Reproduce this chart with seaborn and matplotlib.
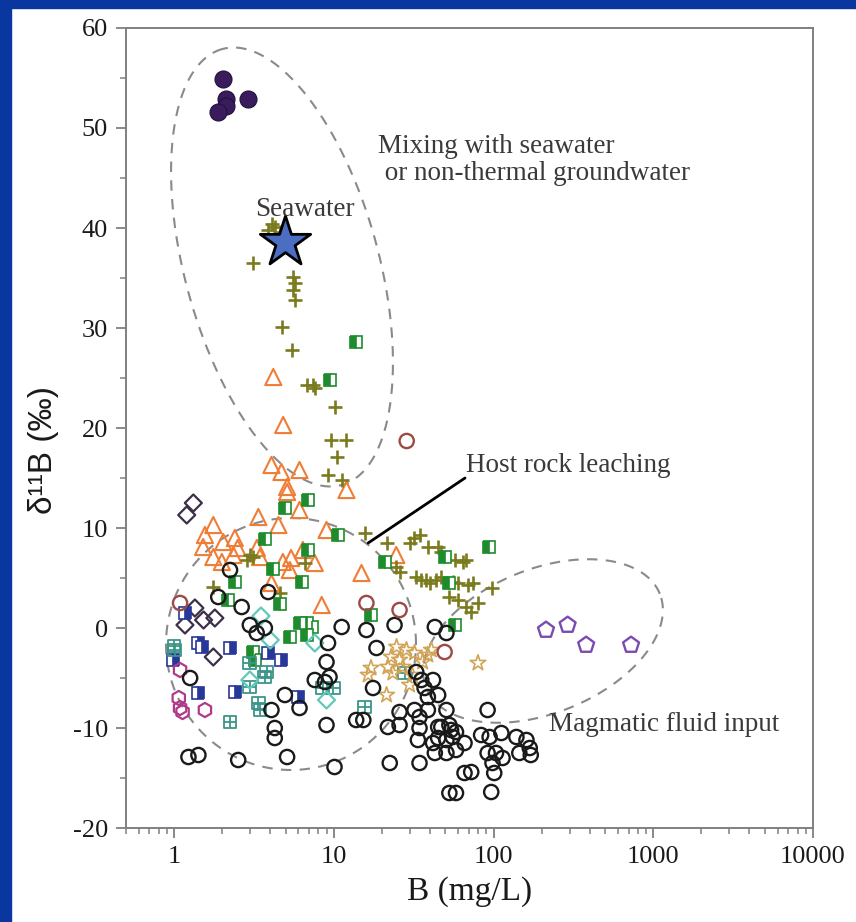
import numpy as np
import pandas as pd
import matplotlib.pyplot as plt
import matplotlib.ticker as mticker
from matplotlib.patches import Rectangle
from matplotlib.path import Path
import seaborn as sns

sns.set_style('ticks')
plt.rcParams['font.family'] = ['Liberation Serif', 'DejaVu Serif']
plt.rcParams['axes.unicode_minus'] = False

# ---- data (B in mg/L, d11B in permil) ----
sphere_B = [2.01, 2.11, 2.11, 1.89, 2.91]
sphere_d = [54.9, 52.9, 52.2, 51.6, 52.9]

seawater_B = [4.94]
seawater_d = [38.6]

plus_B = [3.9, 4.3, 4.1, 4.6, 3.13, 5.57, 5.7, 5.57, 5.7, 4.71, 5.44, 6.75, 7.43, 7.6,
          10.1, 9.64, 12.0, 10.4, 9.2, 11.2, 15.6, 21.4, 24.6, 25.8, 29.8, 32.0, 34.5,
          38.8, 44.9, 47.1, 57.0, 64.3, 67.5, 32.8, 35.3, 38.0, 39.8, 43.7, 47.1, 55.5,
          59.6, 69.0, 74.4, 52.9, 59.6, 67.5, 80.0, 98.5, 72.5, 3.13, 2.98, 1.76, 4.6,
          6.6, 2.85]
plus_d = [39.8, 40.1, 40.4, 39.6, 36.5, 35.1, 34.5, 33.8, 32.8, 30.1, 27.8, 24.3, 24.3, 24.0,
          22.1, 18.8, 18.8, 17.1, 15.3, 14.8, 9.5, 8.5, 6.1, 5.6, 8.5, 9.0, 9.3,
          8.1, 8.1, 7.6, 6.8, 6.6, 6.8, 5.1, 4.8, 4.8, 4.5, 4.8, 5.1, 4.6,
          4.5, 4.3, 4.5, 3.1, 2.8, 2.1, 2.5, 4.0, 1.6, 7.1, 7.3, 4.1, 3.5,
          6.5, 6.8]

tri_B = [4.18, 4.82, 4.07, 4.7, 6.1, 5.1, 5.1, 12.0, 6.1, 3.37, 4.5, 9.0, 3.45, 4.8, 5.4,
         6.4, 7.6, 5.3, 14.9, 24.6, 8.4, 4.07, 1.76, 1.56, 1.52, 2.03, 2.4, 2.5, 1.76,
         1.99, 2.35, 3.3]
tri_d = [25.1, 20.3, 16.3, 15.6, 15.8, 14.1, 13.6, 13.8, 11.8, 11.1, 10.3, 9.8, 7.1, 6.6, 7.0,
         7.8, 6.5, 5.8, 5.5, 7.3, 2.3, 4.5, 10.3, 9.3, 8.1, 8.6, 9.0, 8.0, 7.1,
         6.6, 7.3, 8.0]

gsq_B = [13.8, 9.4, 6.9, 4.94, 10.6, 3.7, 6.9, 4.18, 6.3, 4.6, 20.8, 94.0, 49.4, 52.9, 17.1,
         6.75, 7.25, 57.0, 2.4, 2.18, 6.1, 6.75, 5.3, 3.13, 3.2]
gsq_d = [28.6, 24.8, 12.8, 12.0, 9.3, 8.9, 7.8, 5.9, 4.6, 2.4, 6.6, 8.1, 7.1, 4.5, 1.3,
         0.5, 0.1, 0.3, 4.6, 2.8, 0.5, -0.7, -0.9, -2.4, -3.2]

circ_B = [2.24, 1.89, 3.88, 2.65, 2.98, 3.29, 3.7, 11.2, 16.0, 9.2, 18.5, 9.0, 9.4, 7.6, 8.8,
          1.26, 4.94, 6.1, 4.07, 4.27, 4.27, 9.0, 13.8, 15.3, 17.6, 21.8, 1.23, 1.42, 2.52,
          5.1, 10.1, 22.4, 24.0, 42.9, 50.7, 32.8, 35.3, 41.8, 37.0, 38.8, 45.0, 25.8, 32.0,
          38.8, 50.7, 25.8, 34.4, 34.4, 45.0, 47.1, 52.9, 54.2, 58.2, 91.8, 33.6, 41.8, 45.0,
          50.7, 55.5, 65.8, 83.6, 94.5, 111.9, 139.0, 160.7, 168.5, 42.9, 50.7, 58.2, 91.8,
          103.6, 113.9, 98.5, 101.0, 145.0, 171.0, 34.4, 65.8, 72.5, 52.9, 58.2, 96.7]
circ_d = [5.8, 3.1, 3.6, 2.1, 0.3, -0.5, 0.0, 0.1, -0.2, -1.5, -2.0, -3.4, -4.9, -5.2, -5.4,
          -5.0, -6.7, -8.0, -8.2, -10.0, -11.0, -9.7, -9.2, -9.2, -6.0, -9.9, -12.9, -12.7, -13.2,
          -12.9, -13.9, -13.5, 0.3, 0.1, -0.5, -4.4, -5.2, -5.2, -6.0, -6.9, -6.7, -8.4, -8.2,
          -8.2, -8.2, -9.7, -8.9, -10.0, -9.9, -9.9, -9.7, -10.2, -10.4, -8.2, -11.2, -11.5, -11.0,
          -11.2, -10.9, -11.5, -10.7, -10.9, -10.5, -10.9, -11.2, -12.0, -12.5, -12.5, -12.2, -12.5,
          -12.5, -13.0, -13.5, -14.5, -12.5, -12.7, -13.5, -14.5, -14.4, -16.5, -16.5, -16.4]

brown_B = [28.6, 16.0, 25.8, 49.4, 1.09]
brown_d = [18.7, 2.5, 1.8, -2.4, 2.5]

dia_B = [1.32, 1.2, 1.35, 1.17, 1.53, 1.8, 1.76]
dia_d = [12.5, 11.3, 2.0, 0.3, 0.8, 1.0, -2.9]

bsq_B = [1.17, 1.42, 1.49, 2.24, 0.98, 1.42, 2.4, 3.88, 4.7, 6.0]
bsq_d = [1.5, -1.5, -1.9, -2.0, -3.2, -6.5, -6.4, -2.5, -3.2, -6.9]

grid_B = [1.01, 2.98, 3.7, 3.8, 2.98, 3.37, 3.45, 2.24, 8.5, 9.9, 15.6, 27.8, 1.0]
grid_d = [-2.2, -3.5, -4.9, -4.4, -5.9, -7.5, -8.2, -9.4, -6.0, -6.0, -7.9, -4.5, -1.8]

cyan_B = [3.5, 4.0, 7.6, 2.98, 9.0]
cyan_d = [1.2, -1.2, -1.5, -5.2, -7.2]

hex_B = [1.09, 1.07, 1.09, 1.13, 1.56]
hex_d = [-4.2, -7.0, -8.0, -8.4, -8.2]

tstar_B = [24.7, 28.5, 22.9, 25.8, 21.8, 27.1, 32.0, 38.8, 40.8, 23.4, 36.0, 31.0, 17.1, 16.4,
           21.4, 29.8, 79.9]
tstar_d = [-1.9, -2.2, -2.9, -3.2, -3.9, -3.9, -2.5, -2.7, -2.2, -4.5, -3.4, -4.7, -4.0, -4.7,
           -6.7, -5.7, -3.5]

pent_B = [213, 291, 380, 726]
pent_d = [-0.2, 0.3, -1.7, -1.7]

x_ticks = [1, 10, 100, 1000, 10000]
y_ticks = [-20, -10, 0, 10, 20, 30, 40, 50, 60]

# ---- figure ----
W, H = 856, 922
AX_L, AX_R, AX_T, AX_B = 126, 813, 28, 828
fig = plt.figure(figsize=(W / 100, H / 100), dpi=100, facecolor='white')
ax = fig.add_axes([AX_L / W, 1 - AX_B / H, (AX_R - AX_L) / W, (AX_B - AX_T) / H])
ax.set_facecolor('white')

# blue slide frame
fig.patches.append(Rectangle((0, 0), 11 / W, 1, transform=fig.transFigure, color='#0a36a0', zorder=0))
fig.patches.append(Rectangle((0, 1 - 8 / H), 1, 8 / H, transform=fig.transFigure, color='#0a36a0', zorder=0))


def open_pts(bx, dy, marker, s, color, lw=1.6, z=3):
    sns.scatterplot(x=bx, y=dy, marker=marker, s=s, facecolor='none', edgecolor=color,
                    linewidth=lw, ax=ax, legend=False, zorder=z)


grid_marker = Path([(-1, -1), (1, -1), (1, 1), (-1, 1), (-1, -1), (0, -1), (0, 1), (-1, 0), (1, 0)],
                   [Path.MOVETO, Path.LINETO, Path.LINETO, Path.LINETO, Path.CLOSEPOLY,
                    Path.MOVETO, Path.LINETO, Path.MOVETO, Path.LINETO])

open_pts(tri_B, tri_d, '^', 135, '#f07d35', lw=1.5)
sns.scatterplot(x=plus_B, y=plus_d, marker='+', s=115, color='#7b7b1e', linewidth=1.9,
                ax=ax, legend=False, zorder=3)
ax.plot(gsq_B, gsq_d, ls='none', marker='s', ms=8.5, fillstyle='left', mfc='#1e8c2d',
        mfcalt='white', mec='#1e8c2d', mew=1.2, zorder=3)
open_pts(dia_B, dia_d, 'D', 75, '#3d2f4a')
ax.plot(bsq_B, bsq_d, ls='none', marker='s', ms=8.5, fillstyle='right', mfc='#27379a',
        mfcalt='white', mec='#27379a', mew=1.2, zorder=3)
open_pts(grid_B, grid_d, grid_marker, 85, '#3a9688', lw=1.3)
open_pts(cyan_B, cyan_d, 'D', 75, '#62c8b8')
open_pts(hex_B, hex_d, 'h', 105, '#b03a88')
open_pts(tstar_B, tstar_d, '*', 140, '#d2a456', lw=1.2)
open_pts(circ_B, circ_d, 'o', 105, '#1a1a1a', lw=1.7, z=4)
open_pts(brown_B, brown_d, 'o', 105, '#9c4a44', lw=1.7, z=4)
open_pts(pent_B, pent_d, 'p', 145, '#7a4cb0', lw=1.7)
sns.scatterplot(x=sphere_B, y=sphere_d, marker='o', s=150, color='#3a1c5c', edgecolor='#22103a',
                linewidth=0.8, ax=ax, legend=False, zorder=4)
sns.scatterplot(x=seawater_B, y=seawater_d, marker='*', s=1450, color='#4b6ec2', edgecolor='black',
                linewidth=2, ax=ax, legend=False, zorder=6)


# dashed field ellipses, defined in pixel space of the figure
def field(cx, cy, a, b, ang):
    t = np.linspace(0, 2 * np.pi, 400)
    th = np.radians(ang)
    u, v = a * np.cos(t), b * np.sin(t)
    X = cx + u * np.cos(th) - v * np.sin(th)
    Y = (H - cy) + u * np.sin(th) + v * np.cos(th)
    fx = (X - AX_L) / (AX_R - AX_L)
    fy = (Y - (H - AX_B)) / (AX_B - AX_T)
    ax.plot(fx, fy, transform=ax.transAxes, color='#8a8a8a', lw=1.5, ls=(0, (5, 4)),
            clip_on=False, zorder=2)


field(282, 267, 226, 97, 105.3)
field(291, 644, 125, 126, 0)
field(543, 641, 126, 72, 22)

# labels
txt = dict(fontsize=19.5, color='#3a3a3a', va='baseline', zorder=7)
ax.text(18.9, 44.8, 'Mixing with seawater\n or non-thermal groundwater', linespacing=1.1, **txt)
ax.text(3.21, 41.2, 'Seawater', **txt)
ax.text(66.8, 15.6, 'Host rock leaching', **txt)
ax.text(224, -10.3, 'Magmatic fluid input', **txt)
ax.plot([16.4, 66.3], [8.5, 15.0], color='black', lw=2, zorder=7)

# axes
ax.set_xscale('log')
ax.set_xlim(0.5, 10000)
ax.set_ylim(-20, 60)
ax.set_xticks(x_ticks)
ax.xaxis.set_major_formatter(mticker.FuncFormatter(lambda v, _: f'{v:g}'))
ax.xaxis.set_minor_locator(mticker.LogLocator(base=10, subs=np.arange(2, 10)))
ax.xaxis.set_minor_formatter(mticker.NullFormatter())
ax.set_yticks(y_ticks)
ax.yaxis.set_minor_locator(mticker.MultipleLocator(5))

for sp in ax.spines.values():
    sp.set_color('#808080')
    sp.set_linewidth(1.4)
ax.tick_params(which='major', direction='out', length=7, width=1.3, color='#808080',
               labelsize=19, labelcolor='#1a1a1a', pad=6)
ax.tick_params(which='minor', direction='out', length=4, width=1.1, color='#808080')
ax.tick_params(top=False, right=False, which='both')

ax.set_xlabel('B (mg/L)', fontsize=24, color='#1a1a1a', labelpad=6)
ax.set_ylabel('δ¹¹B (‰)', fontsize=24, color='#1a1a1a', family=['Liberation Sans', 'DejaVu Sans'])
ax.yaxis.set_label_coords(-0.097, 0.4725)

fig.savefig('out.png', dpi=100, facecolor='white')
